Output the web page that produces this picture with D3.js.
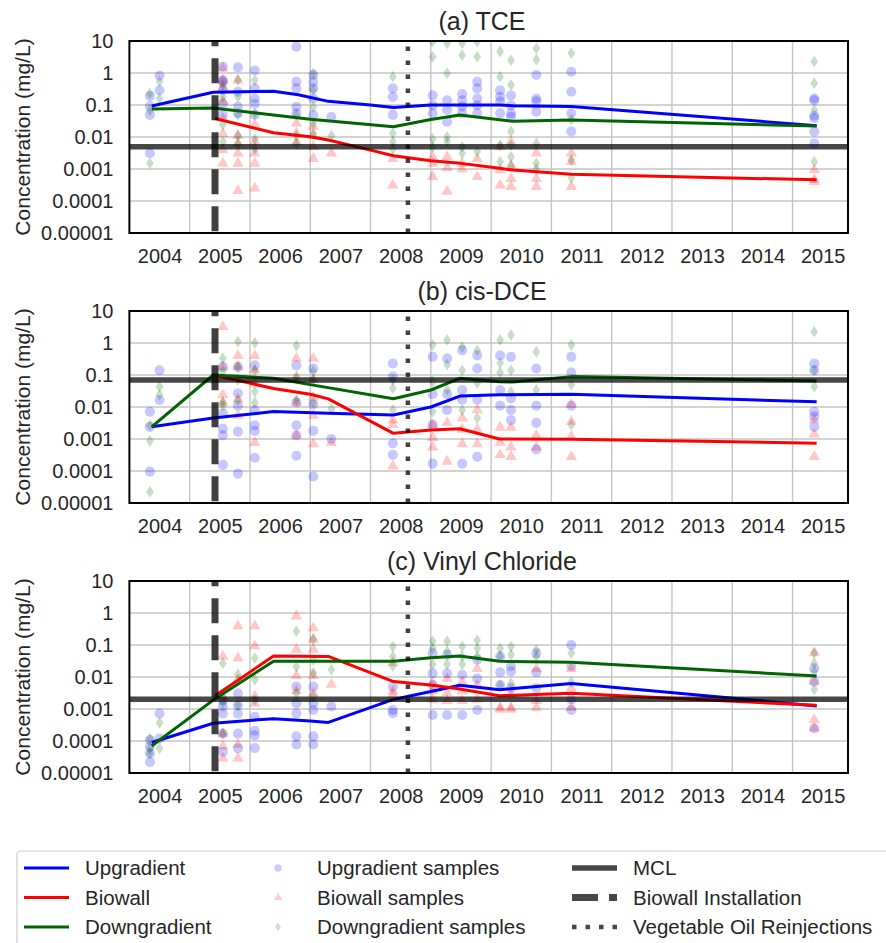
<!DOCTYPE html>
<html>
<head>
<meta charset="utf-8">
<script src="https://cdn.jsdelivr.net/npm/d3@7"></script>
<style>
  body { margin: 0; background: #fff; }
  svg { font-family: "Liberation Sans", Arial, sans-serif; }
</style>
</head>
<body>
<svg id="chart" width="886" height="943"></svg>
<script>
// panel titles, MCL per compound, event dates
var panelTitles = ["(a) TCE", "(b) cis-DCE", "(c) Vinyl Chloride"];
var mclValues = [0.005, 0.07, 0.002];
var biowallDate = 2005.42;
var reinjectionDate = 2008.62;
var yearTicks = [2004, 2005, 2006, 2007, 2008, 2009, 2010, 2011, 2012, 2013, 2014, 2015];
var yTickValues = [10, 1, 0.1, 0.01, 0.001, 0.0001, 0.00001];
var yTickLabels = ["10", "1", "0.1", "0.01", "0.001", "0.0001", "0.00001"];

// mean lines [date, mg/L]
var tceUp = [[2004.37,0.093],[2005.39,0.25],[2006.39,0.27],[2006.8,0.21],[2007.3,0.13],[2008.0,0.1],[2008.38,0.083],[2009.0,0.1],[2009.48,0.1],[2010.14,0.1],[2010.36,0.095],[2011.33,0.09],[2015.4,0.0225]];
var tceBio = [[2005.42,0.038],[2006.39,0.0136],[2007.0,0.0102],[2007.3,0.0081],[2008.0,0.0039],[2008.38,0.0026],[2009.0,0.0018],[2009.5,0.0015],[2010.14,0.00105],[2010.36,0.00093],[2011.33,0.00068],[2015.4,0.00046]];
var tceDown = [[2004.37,0.075],[2005.39,0.08],[2006.39,0.049],[2007.0,0.036],[2008.38,0.021],[2009.0,0.035],[2009.48,0.049],[2010.36,0.031],[2011.33,0.034],[2015.4,0.022]];

var dceUp = [[2004.37,0.0024],[2005.39,0.0045],[2006.39,0.0072],[2007.3,0.0064],[2008.38,0.0056],[2009.0,0.010],[2009.48,0.022],[2010.14,0.024],[2011.33,0.025],[2015.4,0.0145]];
var dceBio = [[2005.39,0.1],[2006.39,0.038],[2007.0,0.025],[2007.3,0.018],[2008.38,0.0015],[2009.0,0.0019],[2009.48,0.0021],[2010.14,0.001],[2011.33,0.00098],[2015.4,0.00074]];
var dceDown = [[2004.37,0.0024],[2005.39,0.1],[2006.39,0.079],[2007.0,0.05],[2008.38,0.018],[2009.0,0.034],[2009.48,0.079],[2010.14,0.062],[2010.36,0.06],[2011.33,0.089],[2015.4,0.065]];

var vcUp = [[2004.37,0.00009],[2005.39,0.00036],[2006.39,0.0005],[2007.0,0.00042],[2007.3,0.00038],[2008.38,0.002],[2009.0,0.0035],[2009.48,0.0055],[2010.14,0.004],[2011.33,0.0063],[2015.4,0.00125]];
var vcBio = [[2005.42,0.0026],[2006.39,0.045],[2007.3,0.044],[2008.38,0.0072],[2009.0,0.0056],[2009.48,0.0042],[2010.14,0.0026],[2011.33,0.0031],[2015.4,0.0013]];
var vcDown = [[2004.37,0.00007],[2005.39,0.0019],[2006.39,0.031],[2007.3,0.031],[2008.38,0.031],[2009.0,0.04],[2009.48,0.045],[2010.14,0.031],[2011.33,0.029],[2015.4,0.0107]];

// individual samples, [date, [values...]]
var tceUpSamples = [[2004.34,[0.19,0.093,0.049,0.0031]],[2004.5,[0.83,0.29]],[2005.55,[1.58,0.6,0.53,0.3,0.11,0.049]],[2005.8,[1.5,0.26,0.088,0.055]],[2006.08,[1.2,0.33,0.16,0.11,0.049]],[2006.77,[6.6,0.53,0.33,0.088,0.055]],[2007.05,[0.87,0.53,0.33,0.16,0.049]],[2007.35,[0.043]],[2008.37,[0.33,0.18,0.049]],[2009.03,[0.2,0.098,0.055]],[2009.27,[0.14,0.07,0.03]],[2009.52,[0.22,0.14,0.088,0.055]],[2009.77,[0.53,0.33,0.16,0.098,0.055]],[2010.15,[0.29,0.18,0.13,0.055]],[2010.33,[0.2,0.098,0.055,0.043]],[2010.75,[0.87,0.16,0.13,0.062]],[2011.33,[1.1,0.26,0.055,0.015]],[2015.36,[0.16,0.14,0.046,0.039,0.0147,0.0063]]];
var tceBioSamples = [[2005.55,[1.4,0.6,0.33,0.13,0.038,0.0126,0.0039,0.0015]],[2005.8,[0.6,0.011,0.0063,0.0031,0.0015,0.00021]],[2006.08,[0.024,0.0071,0.0031,0.0015,0.00025]],[2006.77,[0.027,0.013,0.0071]],[2007.05,[0.021,0.011,0.0049,0.0021]],[2007.35,[0.0031]],[2008.37,[0.0021,0.00031]],[2009.03,[0.0024,0.0015,0.00057]],[2009.27,[0.0024,0.0011,0.0002]],[2009.52,[0.0015,0.001]],[2009.77,[0.0021,0.00057]],[2010.15,[0.0049,0.00093,0.00031]],[2010.33,[0.0071,0.0013,0.0005,0.00028]],[2010.75,[0.0031,0.0005,0.00028]],[2011.33,[0.0031,0.0017,0.00028]],[2015.36,[0.00093,0.00046,0.0004]]];
var tceDownSamples = [[2004.34,[0.23,0.069,0.0015]],[2004.5,[0.54,0.16]],[2005.55,[0.42,0.18,0.024,0.0071]],[2005.8,[0.6,0.18,0.049,0.011,0.006]],[2006.08,[0.6,0.055,0.0088,0.0043]],[2006.77,[0.049,0.011,0.006]],[2007.05,[0.98,0.29,0.088,0.027,0.013]],[2007.35,[0.011]],[2008.37,[0.77,0.013,0.0071,0.0043]],[2009.03,[9.5,3.2,0.0088,0.0049]],[2009.27,[8.5,0.98,0.01,0.0071]],[2009.52,[8.5,3.6,0.0049,0.0031]],[2009.77,[9.5,3.2,0.0035]],[2010.15,[4.7,0.77,0.0055,0.0017]],[2010.33,[2.5,0.42,0.015,0.0055,0.0024,0.0012]],[2010.75,[5.9,2.6,0.0063,0.0015,0.001]],[2011.33,[4.2,0.035,0.0019,0.00054]],[2015.36,[2.26,0.48,0.07,0.0017]]];

var dceUpSamples = [[2004.34,[0.0071,0.0024,0.0000955]],[2004.5,[0.14,0.0166]],[2005.55,[0.18,0.0063,0.0021,0.0013,0.000155]],[2005.8,[0.18,0.027,0.011,0.0017,0.000083]],[2006.08,[0.2,0.008,0.0027,0.0018,0.00026]],[2006.77,[0.2,0.0139,0.0027,0.0013,0.0003]],[2007.05,[0.16,0.012,0.0018,0.000067]],[2007.35,[0.001]],[2008.37,[0.23,0.089,0.00073,0.00032]],[2009.03,[0.37,0.025,0.0028,0.00017]],[2009.27,[0.33,0.025,0.0081]],[2009.52,[0.59,0.034,0.017,0.00017]],[2009.77,[0.41,0.16,0.017,0.00028]],[2010.15,[0.41,0.034,0.011]],[2010.33,[0.37,0.019,0.0081,0.0039]],[2010.75,[0.16,0.011,0.0032,0.00047]],[2011.33,[0.37,0.12,0.011]],[2015.36,[0.23,0.14,0.0071,0.005,0.0024]]];
var dceBioSamples = [[2005.55,[3.2,0.18,0.024,0.0139]],[2005.8,[0.4,0.18,0.0175,0.0054]],[2006.08,[0.4,0.14,0.055,0.00076]],[2006.77,[0.33,0.077,0.0139,0.0013]],[2007.05,[0.33,0.07,0.02,0.0054,0.0007]],[2007.35,[0.00076]],[2008.37,[0.0039,0.0028,0.00014]],[2009.03,[0.0028,0.0011,0.00055]],[2009.27,[0.0032,0.0002]],[2009.52,[0.0045,0.002,0.0007]],[2009.77,[0.0081,0.002,0.0007]],[2010.15,[0.0023,0.00078,0.00032]],[2010.33,[0.0023,0.00055,0.00028]],[2010.75,[0.0013,0.00055]],[2011.33,[0.012,0.0035,0.0012,0.00028]],[2015.36,[0.0039,0.0014,0.00028]]];
var dceDownSamples = [[2004.34,[0.0027,0.00088,0.0000225]],[2004.5,[0.043,0.024]],[2005.55,[0.33,0.13,0.0139,0.011]],[2005.8,[1.1,0.18,0.07,0.016]],[2006.08,[1.0,0.14,0.03,0.0139]],[2006.77,[0.83,0.089,0.0166]],[2007.05,[0.13,0.07,0.0139]],[2007.35,[0.0088]],[2008.37,[0.07,0.038,0.0081]],[2009.03,[0.87,0.063,0.0072]],[2009.27,[1.25,0.21,0.034]],[2009.52,[0.73,0.14,0.0081]],[2009.77,[0.59,0.056,0.0045]],[2010.15,[1.25,0.24,0.12]],[2010.33,[1.8,0.14,0.03]],[2010.75,[0.53,0.034]],[2011.33,[0.87,0.05,0.0028]],[2015.36,[2.26,0.14,0.043]]];

var vcUpSamples = [[2004.34,[0.000107,0.000066,0.000041,0.000022]],[2004.5,[0.00072,0.00012]],[2005.55,[0.0019,0.0012,0.00072,0.00017,0.000046]],[2005.8,[0.0031,0.0013,0.00072,0.00017,0.000059]],[2006.08,[0.00057,0.00021,0.00015,0.00006]],[2006.77,[0.005,0.0015,0.00072,0.00014,0.000078]],[2007.05,[0.005,0.0015,0.00093,0.00014,0.000078]],[2007.35,[0.0012]],[2008.37,[0.005,0.00093,0.00074]],[2009.03,[0.055,0.013,0.0056,0.00065]],[2009.27,[0.049,0.013,0.00065]],[2009.52,[0.0118,0.00065]],[2009.77,[0.035,0.0089,0.00093]],[2010.15,[0.044,0.014,0.0056]],[2010.33,[0.022,0.015,0.0045]],[2010.75,[0.055,0.014,0.0045]],[2011.33,[0.1,0.022,0.002,0.00093]],[2015.36,[0.0186,0.0072,0.00025]]];
var vcBioSamples = [[2005.55,[0.044,0.0025,0.00017,0.000069,0.000029]],[2005.8,[0.39,0.039,0.0083,0.000078,0.000029]],[2006.08,[0.39,0.093,0.0025,0.0015]],[2006.77,[0.8,0.073,0.011,0.0037]],[2007.05,[0.34,0.15,0.073,0.011,0.0031]],[2007.35,[0.0058]],[2008.37,[0.028,0.0036,0.0028]],[2009.03,[0.0063,0.0036,0.002]],[2009.27,[0.0089,0.0032,0.0018]],[2009.52,[0.007,0.0036,0.0018]],[2009.77,[0.018,0.0056,0.002]],[2010.15,[0.0011,0.00098]],[2010.33,[0.0028,0.0011,0.00098]],[2010.75,[0.018,0.0018,0.0011]],[2011.33,[0.018,0.0045,0.0011]],[2015.36,[0.056,0.0072,0.00046,0.00025]]];
var vcDownSamples = [[2004.34,[0.00012,0.000059,0.000041]],[2004.5,[0.00037,0.000059]],[2005.55,[0.027,0.0015,0.00017]],[2005.8,[0.012,0.0013]],[2006.08,[0.039,0.0083,0.0019]],[2006.77,[0.27,0.021,0.0031]],[2007.05,[0.15,0.034,0.0135,0.0025]],[2007.35,[0.017]],[2008.37,[0.089,0.044,0.022]],[2009.03,[0.13,0.079,0.025]],[2009.27,[0.13,0.063,0.025]],[2009.52,[0.089,0.044,0.025]],[2009.77,[0.14,0.079,0.044]],[2010.15,[0.079,0.044,0.0056]],[2010.33,[0.089,0.05,0.0063]],[2010.75,[0.07,0.044]],[2011.33,[0.055,0.007]],[2015.36,[0.056,0.027,0.015,0.0041]]];

var panelLines = [[tceUp, tceBio, tceDown], [dceUp, dceBio, dceDown], [vcUp, vcBio, vcDown]];
var panelSamples = [[tceUpSamples, tceBioSamples, tceDownSamples], [dceUpSamples, dceBioSamples, dceDownSamples], [vcUpSamples, vcBioSamples, vcDownSamples]];
var seriesColors = ["#0000ff", "#ff0000", "#006400"];
var seriesNames = ["Upgradient", "Biowall", "Downgradient"];

var svg = d3.select("#chart");
var left = 129.4, right = 848, plotH = 192;
var panelTops = [41, 311, 581];
var textColor = "#262626";

var x = d3.scaleLinear().domain([2004, 2015.92]).range([left, right]);
var y = d3.scaleLog().domain([0.00001, 10]).range([plotH, 0]);

var symbols = [
  d3.symbol().type(d3.symbolCircle).size(80),
  d3.symbol().type(d3.symbolTriangle).size(56),
  d3.symbol().type(d3.symbolDiamond).size(40)
];

var line = d3.line()
  .x(function(d) { return x(d[0]); })
  .y(function(d) { return y(d[1]); });

function drawPanel(i) {
  var g = svg.append("g").attr("transform", "translate(0," + panelTops[i] + ")");

  g.append("clipPath").attr("id", "clip" + i)
    .append("rect").attr("x", left).attr("y", 0).attr("width", right - left).attr("height", plotH);

  // grid
  g.selectAll(".vgrid").data(yearTicks.slice(1)).enter().append("line")
    .attr("x1", function(d) { return x(d); }).attr("x2", function(d) { return x(d); })
    .attr("y1", 0).attr("y2", plotH)
    .attr("stroke", "#c4c4c4").attr("stroke-width", 1.4);
  g.selectAll(".hgrid").data(yTickValues.slice(1, -1)).enter().append("line")
    .attr("x1", left).attr("x2", right)
    .attr("y1", function(d) { return y(d); }).attr("y2", function(d) { return y(d); })
    .attr("stroke", "#c4c4c4").attr("stroke-width", 1.4);

  var plot = g.append("g").attr("clip-path", "url(#clip" + i + ")");

  // samples
  panelSamples[i].forEach(function(cols, s) {
    var pts = [];
    cols.forEach(function(c) { c[1].forEach(function(v) { pts.push([c[0], v]); }); });
    plot.selectAll(".pt" + s).data(pts).enter().append("path")
      .attr("d", symbols[s])
      .attr("transform", function(d) {
        return "translate(" + x(d[0]) + "," + y(d[1]) + ")" + (s == 2 ? " scale(1.15,1)" : "");
      })
      .attr("fill", seriesColors[s])
      .attr("fill-opacity", 0.22);
  });

  // mean lines
  panelLines[i].forEach(function(data, s) {
    plot.append("path").datum(data)
      .attr("d", line)
      .attr("fill", "none")
      .attr("stroke", seriesColors[s])
      .attr("stroke-width", 3)
      .attr("stroke-linejoin", "round");
  });

  // MCL
  plot.append("line")
    .attr("x1", left).attr("x2", right)
    .attr("y1", y(mclValues[i])).attr("y2", y(mclValues[i]))
    .attr("stroke", "#000").attr("stroke-opacity", 0.72).attr("stroke-width", 5.5);

  // biowall installation + reinjection
  plot.append("line")
    .attr("x1", x(biowallDate)).attr("x2", x(biowallDate))
    .attr("y1", 0).attr("y2", plotH)
    .attr("stroke", "#000").attr("stroke-opacity", 0.75).attr("stroke-width", 7)
    .attr("stroke-dasharray", "25,12").attr("stroke-dashoffset", 19.7);
  plot.append("line")
    .attr("x1", x(reinjectionDate)).attr("x2", x(reinjectionDate))
    .attr("y1", 0).attr("y2", plotH)
    .attr("stroke", "#000").attr("stroke-opacity", 0.75).attr("stroke-width", 4.5)
    .attr("stroke-dasharray", "4.5,9.5").attr("stroke-dashoffset", -5.5);

  // frame
  g.append("rect").attr("x", left).attr("y", 0).attr("width", right - left).attr("height", plotH)
    .attr("fill", "none").attr("stroke", "#000").attr("stroke-width", 2);

  // axes
  var xa = g.append("g").attr("transform", "translate(0," + plotH + ")")
    .call(d3.axisBottom(x).tickValues(yearTicks.map(function(d) { return d + 0.5; }))
      .tickFormat(function(d) { return Math.floor(d); }).tickSize(0).tickPadding(16));
  xa.select(".domain").remove();
  xa.selectAll("text").attr("fill", textColor).style("font-size", "20px");

  var ya = g.append("g").attr("transform", "translate(" + left + ",0)")
    .call(d3.axisLeft(y).tickValues(yTickValues)
      .tickFormat(function(d, k) { return yTickLabels[k]; }).tickSize(0).tickPadding(16));
  ya.select(".domain").remove();
  ya.selectAll("text").attr("fill", textColor).style("font-size", "20px");

  g.append("text")
    .attr("transform", "translate(23," + plotH / 2 + ") rotate(-90)")
    .attr("text-anchor", "middle").attr("dy", "0.35em")
    .attr("fill", textColor).style("font-size", "21px")
    .text("Concentration (mg/L)");

  g.append("text")
    .attr("x", 482).attr("y", -11)
    .attr("text-anchor", "middle")
    .attr("fill", textColor).style("font-size", "25px")
    .text(panelTitles[i]);
}

for (var i = 0; i < 3; i++) drawPanel(i);

// legend
var lg = svg.append("g");
lg.append("rect").attr("x", 17).attr("y", 851).attr("width", 900).attr("height", 120)
  .attr("rx", 4).attr("fill", "#fff").attr("stroke", "#cccccc").attr("stroke-width", 1.2);

var rowY = [868, 897.5, 927];
seriesNames.forEach(function(name, s) {
  lg.append("line").attr("x1", 24).attr("x2", 69).attr("y1", rowY[s]).attr("y2", rowY[s])
    .attr("stroke", seriesColors[s]).attr("stroke-width", 3);
  lg.append("text").attr("x", 85).attr("y", rowY[s]).attr("dy", "0.35em")
    .attr("fill", textColor).style("font-size", "20.5px").text(name);
  lg.append("path").attr("d", symbols[s])
    .attr("transform", "translate(278," + rowY[s] + ") scale(0.75)" + (s == 2 ? " scale(1.15,1)" : ""))
    .attr("fill", seriesColors[s]).attr("fill-opacity", 0.2);
  lg.append("text").attr("x", 317).attr("y", rowY[s]).attr("dy", "0.35em")
    .attr("fill", textColor).style("font-size", "20.5px").text(name + " samples");
});

var refNames = ["MCL", "Biowall Installation", "Vegetable Oil Reinjections"];
var refStyles = [
  { w: 5.5, dash: null },
  { w: 7, dash: "26,11" },
  { w: 4.5, dash: "4.5,9" }
];
refNames.forEach(function(name, k) {
  var l = lg.append("line").attr("x1", 572).attr("x2", 617).attr("y1", rowY[k]).attr("y2", rowY[k])
    .attr("stroke", "#000").attr("stroke-opacity", 0.72).attr("stroke-width", refStyles[k].w);
  if (refStyles[k].dash) l.attr("stroke-dasharray", refStyles[k].dash);
  lg.append("text").attr("x", 633).attr("y", rowY[k]).attr("dy", "0.35em")
    .attr("fill", textColor).style("font-size", "20.5px").text(name);
});
</script>
</body>
</html>
